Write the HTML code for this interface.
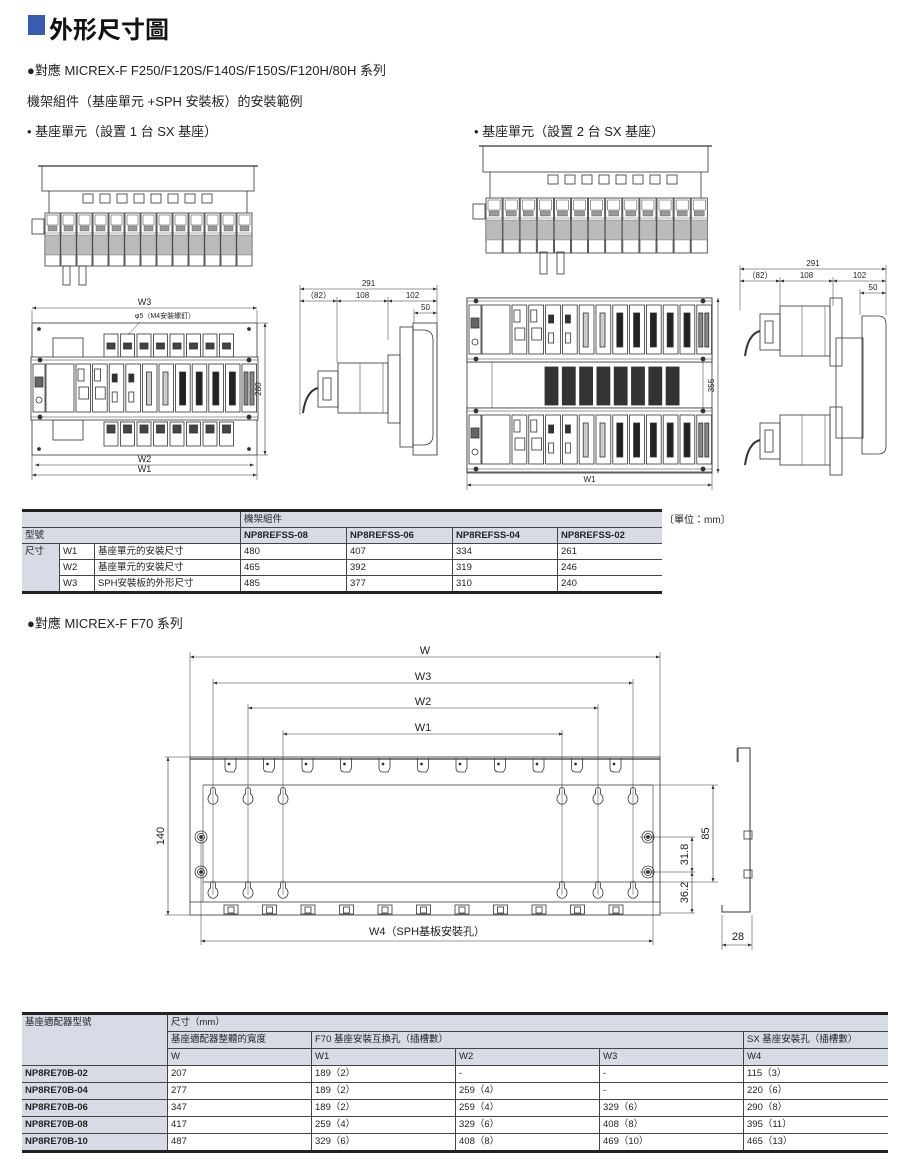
<!DOCTYPE html>
<html><head><meta charset="utf-8">
<style>
html,body{margin:0;padding:0;background:#fff;}
body{width:900px;height:1173px;position:relative;overflow:hidden;font-family:"Liberation Sans","Noto Sans CJK TC",sans-serif;color:#222;}
.t{position:absolute;white-space:nowrap;}
svg{position:absolute;left:0;top:0;}
table{position:absolute;border-collapse:collapse;font-size:9.5px;font-family:"Liberation Sans","Noto Sans CJK TC",sans-serif;}
td{border:1px solid #444;padding:0 3px;height:15px;line-height:15px;}
#t2 td{height:16px;line-height:16px;}
.g{background:#d6dbe6;}
</style></head><body>
<div class="t" style="left:28px;top:15px;width:17px;height:20px;background:#3a5cb0;"></div>
<div class="t" style="left:49px;top:10px;font-size:24px;font-weight:bold;color:#111;">外形尺寸圖</div>
<div class="t" style="left:27px;top:60px;font-size:13px;">●對應 MICREX-F F250/F120S/F140S/F150S/F120H/80H 系列</div>
<div class="t" style="left:27px;top:91px;font-size:13px;">機架組件（基座單元 +SPH 安裝板）的安裝範例</div>
<div class="t" style="left:27px;top:121px;font-size:13px;">• 基座單元（設置 1 台 SX 基座）</div>
<div class="t" style="left:474px;top:121px;font-size:13px;">• 基座單元（設置 2 台 SX 基座）</div>
<div class="t" style="left:27px;top:613px;font-size:13px;">●對應 MICREX-F F70 系列</div>

<svg id="s" width="900" height="1173" viewBox="0 0 900 1173" font-family="Liberation Sans, Noto Sans CJK TC, sans-serif" stroke="#333" fill="none" stroke-width="0.8"></svg>

<table style="left:22px;top:509px;width:640px;border-top:3px solid #222;border-bottom:3px solid #222;">
<tr><td class="g" colspan="3" style="border-left:none"></td><td class="g" colspan="4" style="border-right:none">機架組件</td></tr>
<tr class="g"><td colspan="3" style="border-left:none">型號</td><td style="font-weight:bold">NP8REFSS-08</td><td style="font-weight:bold">NP8REFSS-06</td><td style="font-weight:bold">NP8REFSS-04</td><td style="font-weight:bold;border-right:none">NP8REFSS-02</td></tr>
<tr><td rowspan="3" class="g" style="width:31px;vertical-align:top;border-left:none">尺寸</td><td style="width:28px">W1</td><td style="width:139px">基座單元的安裝尺寸</td><td style="width:99px">480</td><td style="width:99px">407</td><td style="width:98px">334</td><td style="border-right:none">261</td></tr>
<tr><td>W2</td><td>基座單元的安裝尺寸</td><td>465</td><td>392</td><td>319</td><td style="border-right:none">246</td></tr>
<tr><td>W3</td><td>SPH安裝板的外形尺寸</td><td>485</td><td>377</td><td>310</td><td style="border-right:none">240</td></tr>
</table>
<div class="t" style="left:664px;top:511px;font-size:10px;">〔單位：mm〕</div>

<table id="t2" style="left:22px;top:1012px;width:866px;border-top:3px solid #222;border-bottom:3px solid #222;">
<tr><td class="g" rowspan="3" style="width:139px;vertical-align:top;border-left:none">基座適配器型號</td><td class="g" colspan="5" style="border-right:none">尺寸（mm）</td></tr>
<tr class="g"><td style="width:137px">基座適配器整體的寬度</td><td colspan="3">F70 基座安裝互換孔（插槽數）</td><td style="border-right:none">SX 基座安裝孔（插槽數）</td></tr>
<tr class="g"><td>W</td><td style="width:137px">W1</td><td style="width:137px">W2</td><td style="width:137px">W3</td><td style="border-right:none">W4</td></tr>
<tr><td class="g" style="font-weight:bold;border-left:none">NP8RE70B-02</td><td>207</td><td>189（2）</td><td>-</td><td>-</td><td style="border-right:none">115（3）</td></tr>
<tr><td class="g" style="font-weight:bold;border-left:none">NP8RE70B-04</td><td>277</td><td>189（2）</td><td>259（4）</td><td>-</td><td style="border-right:none">220（6）</td></tr>
<tr><td class="g" style="font-weight:bold;border-left:none">NP8RE70B-06</td><td>347</td><td>189（2）</td><td>259（4）</td><td>329（6）</td><td style="border-right:none">290（8）</td></tr>
<tr><td class="g" style="font-weight:bold;border-left:none">NP8RE70B-08</td><td>417</td><td>259（4）</td><td>329（6）</td><td>408（8）</td><td style="border-right:none">395（11）</td></tr>
<tr><td class="g" style="font-weight:bold;border-left:none">NP8RE70B-10</td><td>487</td><td>329（6）</td><td>408（8）</td><td>469（10）</td><td style="border-right:none">465（13）</td></tr>
</table>

<script>
var s=document.getElementById('s'),h='';
function L(a,b,c,d,w){h+='<line x1="'+a+'" y1="'+b+'" x2="'+c+'" y2="'+d+'"'+(w?' stroke-width="'+w+'"':'')+'/>';}
function R(x,y,w,hh,f,sw){h+='<rect x="'+x+'" y="'+y+'" width="'+w+'" height="'+hh+'"'+(f?' fill="'+f+'"':'')+(sw?' stroke-width="'+sw+'"':'')+'/>';}
function C(x,y,r,f){h+='<circle cx="'+x+'" cy="'+y+'" r="'+r+'"'+(f?' fill="'+f+'"':'')+'/>';}
function T(x,y,t,sz,rot){h+='<text x="'+x+'" y="'+y+'" font-size="'+(sz||9)+'" fill="#222" stroke="none" text-anchor="middle"'+(rot?' transform="rotate(-90 '+x+' '+y+')"':'')+'>'+t+'</text>';}
function DH(x1,x2,y,t,sz){L(x1,y,x2,y,0.6);A(x1,y,1);A(x2,y,-1);if(t)T((x1+x2)/2,y-3,t,sz);}
function A(x,y,d){h+='<path d="M'+x+' '+y+'l'+(4*d)+' -1.5v3z" fill="#333" stroke="none"/>';}
function AV(x,y,d){h+='<path d="M'+x+' '+y+'l-1.5 '+(4*d)+'h3z" fill="#333" stroke="none"/>';}
function DV(x,y1,y2,t,sz){L(x,y1,x,y2,0.6);AV(x,y1,1);AV(x,y2,-1);if(t)T(x-4,(y1+y2)/2,t,sz,1);}
function topView(x0,y0,x1,yb,mod0,mods,mw,my,mh){
 R(x0,y0,x1-x0,yb-y0); L(x0-4,y0,x1+4,y0,1.2);
 L(x0+7,yb,x0+7,my);L(x1-7,yb,x1-7,my);
 for(var i=0;i<8;i++)R(mod0+i*17,yb+3,10,9);
 R(x0-10,my+6,12,15);
 for(var i=0;i<mods;i++){var x=x0+3+i*mw;R(x,my,mw-1,mh,'#fff');
  for(var k=0;k<5;k++)L(x,my+20+k*5,x+mw-1,my+20+k*5,0.4);
  R(x+2,my+2,mw-5,10,null,0.5);R(x+3,my+13,mw-7,5,'#999',0.3);R(x,my+22,mw-1,20,'#bbb',0.3);}
}
topView(42,166,254,191,83,13,16,213,53);
R(63,266,7,19);R(79,266,7,19);
topView(483,146,708,172,548,13,17.1,198,55);
R(540,252,7,22);R(557,252,7,22);
function front(x0,y0,w,hh,n,mw){
 R(x0,y0,w,hh,'#fff');L(x0,y0+3,x0+w,y0+3,0.5);L(x0,y0+hh-3,x0+w,y0+hh-3,0.5);
 C(x0+9,y0+3,2,'#333');C(x0+w-9,y0+3,2,'#333');C(x0+9,y0+hh-3,2,'#333');C(x0+w-9,y0+hh-3,2,'#333');
 R(x0+2,y0+7,12,hh-15);R(x0+4,y0+20,8,10,'#666');C(x0+8,y0+hh-20,3);
 R(x0+15,y0+7,28,hh-15);
 for(var i=0;i<n;i++){var x=x0+45+i*mw;R(x,y0+7,mw-2,hh-15);
  if(i<2){R(x+2,y0+12,6,12);R(x+3,y0+30,mw-7,12);}
  else if(i<4){R(x+3,y0+17,5,8,'#333');R(x+3,y0+35,5,10);}
  else if(i<6){R(x+4,y0+15,5,hh-30,'#ccc');}
  else if(i<n-1){R(x+4,y0+15,6,hh-30,'#222');}
  else{R(x+2,y0+15,4,hh-30,'#888');R(x+8,y0+15,4,hh-30,'#888');}}
}
R(32,323,225,132);C(39,329,1.5,'#333');C(249,329,1.5,'#333');C(39,449,1.5,'#333');C(249,449,1.5,'#333');
R(53,338,30,20);R(53,420,30,20);
for(var i=0;i<8;i++){R(104+i*16.5,334,14,23);R(107+i*16.5,343,8,6,'#444');R(104+i*16.5,422,14,24);R(107+i*16.5,425,8,8,'#444');}
front(31,357,227,63,11,16.6);
DH(32,257,308,'W3',9);L(32,310,32,323,0.5);L(257,310,257,323,0.5);
DH(35,254,465,'W2',9);DH(32,257,475,'W1',9);L(32,455,32,480,0.5);L(257,455,257,480,0.5);
DV(265,323,455,'280',8);L(257,323,268,323,0.5);L(257,455,268,455,0.5);
T(165,318,'φ5（M4安裝螺釘）',7);L(140,322,128,335,0.5);
function side(x0,y0){
 R(x0,y0,50,50,'#fff');L(x0+22,y0,x0+22,y0+50,0.5);L(x0+45,y0,x0+45,y0+50,0.5);
 R(x0-20,y0+8,20,36);R(x0-15,y0+15,8,22);
 h+='<path d="M'+(x0-20)+' '+(y0+25)+'q-12 3 -15 25" stroke-width="2"/>';
 R(x0+50,y0-8,12,68);
}
DH(300,437,289,'291',8);DH(300,337,301,'（82）',8);DH(337,388,301,'108',8);DH(388,437,301,'102',8);DH(414,437,313,'50',8);
L(300,285,300,415,0.5);L(437,285,437,455,0.5);L(337,297,337,363,0.5);L(388,297,388,340,0.5);L(414,309,414,323,0.5);
side(338,363);R(400,327,13,120);h+='<path d="M413 330 h10 q10 0 10 10 v95 q0 10 -10 10 h-10z"/>';R(413,323,24,132);
R(467,298,245,175);L(467,362,712,362);L(467,408,712,408);
for(var i=0;i<8;i++){R(545+i*17.3,367,13,38,'#333');L(551+i*17.3,367,551+i*17.3,405,0.3);}
L(492,362,492,408,0.5);L(703,362,703,408,0.5);
front(467,298,245,64,12,16.8);front(467,408,245,64,12,16.8);
DH(467,712,485,'W1',8);L(467,473,467,490,0.5);L(712,473,712,490,0.5);
DV(718,298,473,'355',8);
DH(740,886,269,'291',8);DH(740,780,281,'（82）',8);DH(780,833,281,'108',8);DH(833,886,281,'102',8);DH(860,886,293,'50',8);
L(740,265,740,310,0.5);L(886,265,886,315,0.5);L(780,277,780,306,0.5);L(833,277,833,306,0.5);L(860,289,860,315,0.5);
side(780,306);side(780,415);R(836,338,27,100);h+='<path d="M862 316 h16 q8 0 8 8 v122 q0 8 -8 8 h-16z"/>';
R(190,757,470,158);L(190,759,660,759,1.2);
L(203,785,653,785);L(203,882,653,882);L(190,902,660,902);
L(203,785,203,902,0.6);L(653,785,653,902,0.6);
for(var i=0;i<11;i++){var x=228+i*38.5;h+='<path d="M'+(x-3)+' 758 v10 q0 4 4 4 h5 l2 -4 v-10"/>';C(x+1,764,1,'#333');
 R(x-4,905,14,9);R(x,907,6,6);}
var kx=[213,248,283,562,598,633];
kx.forEach(function(x){[792,886].forEach(function(y){h+='<path d="M'+(x-2.5)+' '+(y+2)+' v-4 a2.5 2.5 0 0 1 5 0 v4 a5 5.5 0 1 1 -5 0 z"/>';});});
[[201,837],[201,872],[648,837],[648,872]].forEach(function(p){C(p[0],p[1],6);C(p[0],p[1],3.5);C(p[0],p[1],1.5,'#333');});
DH(190,660,657,'W',11);DH(213,633,683,'W3',11);DH(248,598,708,'W2',11);DH(283,563,734,'W1',11);
L(190,652,190,757,0.5);L(660,652,660,757,0.5);
kx.forEach(function(x,i){var ys=[683,708,734,734,708,683][i];L(x,ys-4,x,895,0.5);});
DV(168,757,915,'140',11);L(165,757,190,757,0.5);L(165,915,190,915,0.5);
L(201,835,201,945,0.5);L(653,835,653,945,0.5);
DH(201,653,941,'',11);T(427,935,'W4（SPH基板安裝孔）',11);
L(640,785,718,785,0.5);L(640,882,718,882,0.5);L(640,837,695,837,0.5);L(640,872,695,872,0.5);L(660,913,695,913,0.5);
DV(713,785,882,'85',11);DV(692,837,872,'31.8',11);DV(692,872,913,'36.2',11);
h+='<path d="M738 762 v-14 h12 v164 h-28 v-7" stroke-width="1"/>';L(737,748,737,762,0.6);
R(744,831,8,8);R(744,870,8,8);
DH(722,752,945,'',9);L(722,915,722,950,0.5);L(752,915,752,950,0.5);T(738,940,'28',11);
s.innerHTML=h;
</script>
</body></html>
